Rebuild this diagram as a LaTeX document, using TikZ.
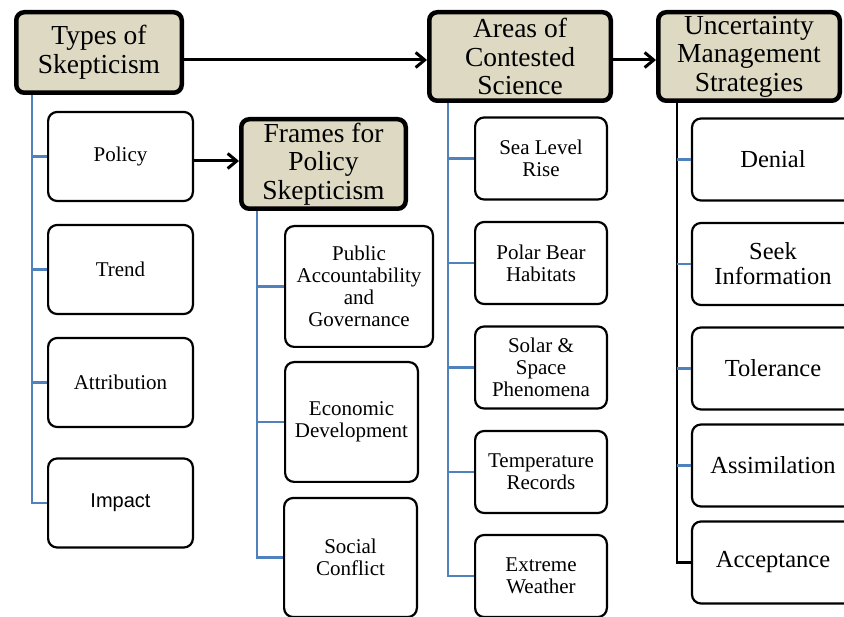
\documentclass[tikz,border=0pt]{standalone}
\usepackage{fontspec}
\setmainfont{Liberation Serif}
\newfontfamily\sansfam{Liberation Sans}
\usepackage{tikz}
\usetikzlibrary{arrows.meta}

\definecolor{tan}{HTML}{DDD9C3}
\definecolor{treeblue}{HTML}{4F81BD}

\tikzset{
  head/.style={draw,fill=tan,line width=4.5pt,rounded corners=8pt,align=center,
    inner sep=0pt,font=\fontsize{27.5}{28.5}\selectfont},
  leaf/.style={draw,line width=2.2pt,rounded corners=9pt,align=center,inner sep=0pt,
    font=\fontsize{21}{22}\selectfont},
  bigleaf/.style={leaf,font=\fontsize{24.5}{25}\selectfont},
  tree/.style={treeblue,line width=2.5pt},
  trunk/.style={black,line width=2.5pt},
  link/.style={-{Straight Barb[length=9pt,width=15pt]},line width=3pt}
}

\begin{document}
\begin{tikzpicture}[x=1pt,y=-1pt]
  \useasboundingbox (0,0) rectangle (844,617);

  % heads
  \node[head,minimum width=165.5pt,minimum height=80.5pt] (types) at (99,52.5) {Types of\\Skepticism};
  \node[head,minimum width=181.5pt,minimum height=88.5pt] (areas) at (520,56.5) {Areas of\\Contested\\Science};
  \node[head,minimum width=181.5pt,minimum height=88.5pt] (uncert) at (749,56.5) {Uncertainty\\Management\\Strategies};
  \node[head,minimum width=164.5pt,minimum height=89.5pt] (frames) at (323.5,164) {Frames for\\Policy\\Skepticism};

  % types of skepticism
  \node[leaf,minimum width=144.8pt,minimum height=89pt] (policy) at (120.5,156.5) {Policy};
  \node[leaf,minimum width=144.8pt,minimum height=89pt] (trend) at (120.5,269.5) {Trend};
  \node[leaf,minimum width=144.8pt,minimum height=89pt] (attribution) at (120.5,382.5) {Attribution};
  \node[leaf,minimum width=144.8pt,minimum height=89pt,font=\sansfam\fontsize{20}{22}\selectfont] (impact) at (120.5,503) {Impact};

  % frames
  \node[leaf,minimum width=147.8pt,minimum height=120.8pt] (public) at (359,286.5) {Public\\Accountability\\and\\Governance};
  \node[leaf,minimum width=132.8pt,minimum height=119.8pt] (economic) at (351.5,422) {Economic\\Development};
  \node[leaf,minimum width=132.8pt,minimum height=119pt] (social) at (350.5,557.5) {Social\\Conflict};

  % areas of contested science
  \node[leaf,minimum width=131.8pt,minimum height=82pt] (sealevel) at (541,158.5) {Sea Level\\Rise};
  \node[leaf,minimum width=131.8pt,minimum height=82pt] (polarbear) at (541,263) {Polar Bear\\Habitats};
  \node[leaf,minimum width=131.8pt,minimum height=82pt] (solar) at (541,367.5) {Solar \&\\Space\\Phenomena};
  \node[leaf,minimum width=131.8pt,minimum height=82pt] (temperature) at (541,472) {Temperature\\Records};
  \node[leaf,minimum width=131.8pt,minimum height=82pt] (extreme) at (541,576) {Extreme\\Weather};

  % strategies
  \node[bigleaf,minimum width=162pt,minimum height=82pt] (denial) at (773,159.5) {Denial};
  \node[bigleaf,minimum width=162pt,minimum height=82pt] (seek) at (773,264) {Seek\\Information};
  \node[bigleaf,minimum width=162pt,minimum height=82pt] (tolerance) at (773,368.5) {Tolerance};
  \node[bigleaf,minimum width=162pt,minimum height=82pt] (assimilation) at (773,465.5) {Assimilation};
  \node[bigleaf,minimum width=162pt,minimum height=82pt] (acceptance) at (773,562.5) {Acceptance};

  % trees
  \coordinate (tyroot) at (32,95);
  \coordinate (frroot) at (257,211);
  \coordinate (arroot) at (448,103);
  \coordinate (unroot) at (677,103);
  \foreach \n in {policy,trend,attribution,impact}
    \draw[tree] (tyroot) |- (\n.west);
  \foreach \n in {public,economic,social}
    \draw[tree] (frroot) |- (\n.west);
  \foreach \n in {sealevel,polarbear,solar,temperature,extreme}
    \draw[tree] (arroot) |- (\n.west);
  \draw[trunk] (unroot) |- (acceptance.west);
  \foreach \n in {denial,seek,tolerance,assimilation}
    \draw[tree] (\n.west -| unroot) -- (\n.west);

  % arrows
  \draw[link] ([yshift=-7.5pt]types.east) -- ([yshift=-7.5pt]types.east -| areas.west);
  \draw[link] ([yshift=-3.5pt]areas.east) -- ([yshift=-3.5pt]areas.east -| uncert.west);
  \draw[link] ([yshift=-4.5pt]policy.east) -- ([yshift=-4.5pt]policy.east -| frames.west);
\end{tikzpicture}
\end{document}
